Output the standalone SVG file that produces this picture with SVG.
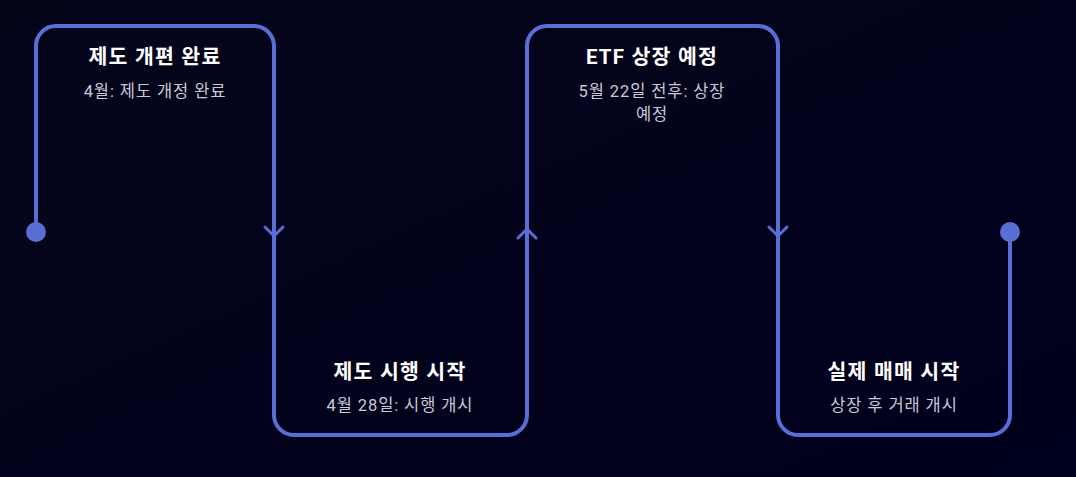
<svg xmlns="http://www.w3.org/2000/svg" width="1076" height="477" viewBox="0 0 1076 477">
<defs>
<linearGradient id="bg" x1="0" y1="0" x2="1" y2="1">
<stop offset="0" stop-color="#05051a"/>
<stop offset="1" stop-color="#00001e"/>
</linearGradient>
<style>
.ln{fill:none;stroke:#5a6fd6;stroke-width:4;stroke-linecap:round;stroke-linejoin:round}
.ar{fill:none;stroke:#5a6fd6;stroke-width:3;stroke-linecap:round;stroke-linejoin:miter}
.dot{fill:#5a6fd6}
.t{font-family:Roboto,"Noto Sans CJK KR",sans-serif;font-size:20.5px;letter-spacing:1.2px;font-weight:bold;fill:#ffffff;text-anchor:middle}
.s{font-family:Roboto,"Noto Sans CJK KR",sans-serif;font-size:16.5px;letter-spacing:0.9px;fill:#c9cad6;text-anchor:middle}
</style>
</defs>
<rect width="1076" height="477" fill="url(#bg)"/>
<g id="connectors">
<path class="ln" d="M36 232 V46 A20 20 0 0 1 56 26 H254 A20 20 0 0 1 274 46 V236"/>
<path class="ar" d="M265 227 L274 236 L283 227"/>
<path class="ln" d="M274 236 V415 A20 20 0 0 0 294 435 H507 A20 20 0 0 0 527 415 V229"/>
<path class="ar" d="M518 238 L527 229 L536 238"/>
<path class="ln" d="M527 229 V46 A20 20 0 0 1 547 26 H758 A20 20 0 0 1 778 46 V236"/>
<path class="ar" d="M769 227 L778 236 L787 227"/>
<path class="ln" d="M778 236 V415 A20 20 0 0 0 798 435 H990 A20 20 0 0 0 1010 415 V232"/>
<circle class="dot" cx="36" cy="232" r="10"/>
<circle class="dot" cx="1010" cy="232" r="10"/>
</g>
<g id="node1">
<text class="t" x="155" y="64">제도 개편 완료</text>
<text class="s" x="155" y="97">4월: 제도 개정 완료</text>
</g>
<g id="node2">
<text class="t" x="400" y="379">제도 시행 시작</text>
<text class="s" x="400" y="411">4월 28일: 시행 개시</text>
</g>
<g id="node3">
<text class="t" x="652" y="64">ETF 상장 예정</text>
<text class="s" x="652" y="97">5월 22일 전후: 상장</text>
<text class="s" x="652" y="120">예정</text>
</g>
<g id="node4">
<text class="t" x="894" y="379">실제 매매 시작</text>
<text class="s" x="894" y="411">상장 후 거래 개시</text>
</g>
</svg>
